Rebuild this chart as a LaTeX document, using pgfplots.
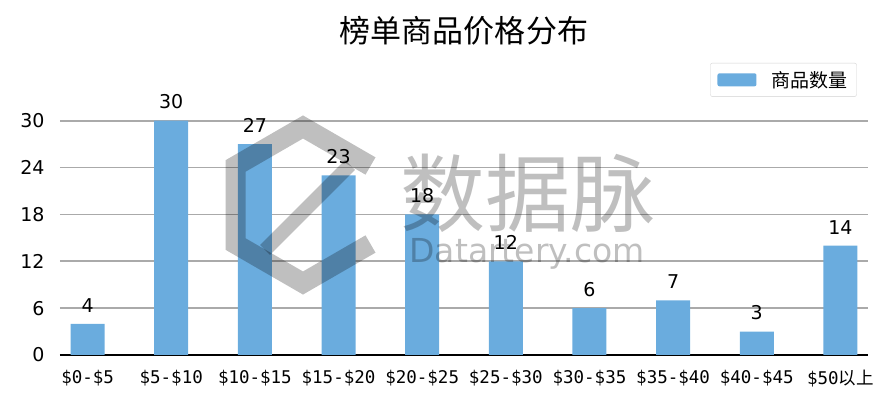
\documentclass[border=0pt]{standalone}
\usepackage{fontspec}
\setmainfont{DejaVu Sans}
\newfontfamily\cjk{Noto Sans CJK SC}
\newfontfamily\mono{DejaVu Sans Mono}
\usepackage{pgfplots}
\pgfplotsset{compat=1.18}
\definecolor{barblue}{RGB}{106,172,222}
\definecolor{gridgray}{RGB}{170,170,170}

\begin{document}
\begin{tikzpicture}
\path[use as bounding box] (-60bp,-51bp) rectangle (833bp,355bp);
\begin{axis}[
    at={(0,0)}, anchor=south west,
    scale only axis, width=808bp, height=285bp,
    xmin=-0.33, xmax=9.33, ymin=0, ymax=36.5,
    ybar, bar width=34bp,
    axis x line*=bottom, axis y line*=left,
    y axis line style={draw=none},
    x axis line style={black, line width=1.8bp},
    tick style={draw=none},
    ytick={0,6,...,30}, ymajorgrids,
    grid style={gridgray, line width=1.6bp},
    xtick={0,...,9},
    xticklabels={\$0-\$5,\$5-\$10,\$10-\$15,\$15-\$20,\$20-\$25,\$25-\$30,\$30-\$35,\$35-\$40,\$40-\$45,\$50{\cjk 以上}},
    xticklabel style={font=\mono\fontsize{17.5bp}{20bp}\selectfont, yshift=-7bp},
    yticklabel style={font=\fontsize{19bp}{22bp}\selectfont, xshift=-12bp},
    /pgf/number format/assume math mode=true,
    nodes near coords,
    nodes near coords style={font=\fontsize{19bp}{22bp}\selectfont, black, yshift=8bp},
    title={\cjk 榜单商品价格分布},
    title style={font=\fontsize{31bp}{34bp}\selectfont, at={(0.5,1)}, anchor=center, yshift=33bp},
    legend style={at={(0.986,1.025)}, anchor=north east, draw=gray!35, rounded corners=2bp,
        font=\cjk\fontsize{19bp}{22bp}\selectfont, inner xsep=7bp, inner ysep=6bp},
    legend image code/.code={\fill[barblue] (0bp,-6.5bp) rectangle (39bp,6.5bp); \path (52bp,0bp);},
]
\addplot[fill=barblue, draw=none] coordinates {
    (0,4) (1,30) (2,27) (3,23) (4,18) (5,12) (6,6) (7,7) (8,3) (9,14)
};
\addlegendentry{商品数量}
\end{axis}
% watermark
\begin{scope}[black, opacity=0.25]
\draw[line width=20bp, line join=miter]
    (243bp+67.5bp,150bp+39bp) -- (243bp,150bp+78bp) -- (243bp-67.5bp,150bp+39bp)
    -- (243bp-67.5bp,150bp-39bp) -- (243bp,150bp-78bp) -- (243bp+67.5bp,150bp-39bp);
\draw[line width=14bp] (205bp,105bp) -- (290bp,190bp);
\node[font=\cjk\fontsize{85bp}{90bp}\selectfont] at (468bp,162bp) {数据脉};
\node[font=\fontsize{33bp}{35bp}\selectfont] at (467bp,101bp) {Datartery.com};
\end{scope}
\end{tikzpicture}
\end{document}
